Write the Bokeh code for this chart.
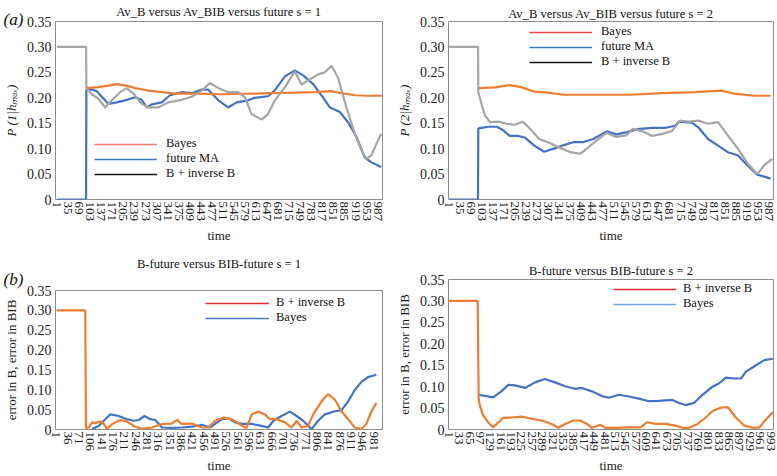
from bokeh.plotting import figure
from bokeh.models import Range1d, FixedTicker, Legend, LegendItem, Title
from bokeh.layouts import column, row
from bokeh.embed import file_html
from bokeh.resources import INLINE

# ---------------- data ----------------
# Panel (a) left, s = 1
al_bayes_t = [91, 128, 159, 184, 215, 241, 282, 323, 364, 425, 507, 589, 660, 732, 794, 845, 875, 917, 957, 1000]
al_bayes_v = [0.219, 0.221, 0.224, 0.227, 0.224, 0.219, 0.214, 0.211, 0.208, 0.208, 0.207, 0.208, 0.209, 0.210, 0.211, 0.213, 0.209, 0.205, 0.204, 0.204]
al_ma_t = [1, 90, 91, 108, 123, 159, 184, 210, 241, 261, 277, 292, 323, 348, 384, 415, 446, 466, 497, 527, 553, 589, 609, 650, 671, 702, 732, 758, 789, 814, 840, 871, 896, 922, 947, 968, 998]
al_ma_v = [0, 0, 0.217, 0.216, 0.213, 0.188, 0.191, 0.195, 0.201, 0.196, 0.181, 0.187, 0.191, 0.205, 0.211, 0.209, 0.216, 0.216, 0.195, 0.181, 0.191, 0.195, 0.200, 0.203, 0.215, 0.242, 0.254, 0.244, 0.227, 0.205, 0.181, 0.172, 0.152, 0.123, 0.083, 0.073, 0.064]
al_bib_t = [1, 90, 91, 108, 128, 149, 169, 195, 215, 236, 261, 282, 312, 343, 384, 415, 446, 471, 497, 527, 558, 579, 599, 630, 650, 671, 702, 732, 753, 773, 804, 824, 845, 865, 891, 917, 937, 952, 968, 983, 998]
al_bib_v = [0.30, 0.30, 0.219, 0.207, 0.198, 0.181, 0.195, 0.211, 0.219, 0.208, 0.188, 0.181, 0.181, 0.191, 0.196, 0.202, 0.214, 0.229, 0.219, 0.211, 0.211, 0.201, 0.168, 0.157, 0.168, 0.195, 0.221, 0.252, 0.226, 0.234, 0.246, 0.250, 0.263, 0.240, 0.181, 0.129, 0.097, 0.080, 0.087, 0.109, 0.129]

# Panel (a) right, s = 2
ar_bayes_t = [91, 94, 143, 188, 224, 264, 305, 355, 456, 558, 659, 760, 841, 881, 942, 993]
ar_bayes_v = [0.219, 0.219, 0.2205, 0.225, 0.221, 0.212, 0.210, 0.206, 0.206, 0.206, 0.209, 0.211, 0.214, 0.208, 0.204, 0.204]
ar_ma_t = [1, 90, 91, 122, 148, 168, 188, 213, 234, 264, 294, 325, 355, 386, 416, 446, 487, 517, 547, 588, 628, 669, 699, 709, 750, 770, 800, 831, 861, 892, 922, 952, 993]
ar_ma_v = [0, 0, 0.140, 0.143, 0.143, 0.136, 0.125, 0.125, 0.122, 0.106, 0.094, 0.100, 0.107, 0.113, 0.113, 0.119, 0.134, 0.128, 0.132, 0.139, 0.141, 0.141, 0.145, 0.153, 0.151, 0.142, 0.119, 0.106, 0.093, 0.087, 0.067, 0.049, 0.041]
ar_bib_t = [1, 90, 91, 102, 112, 127, 153, 178, 203, 229, 249, 279, 315, 345, 375, 406, 426, 456, 487, 517, 547, 568, 598, 628, 659, 689, 714, 740, 770, 800, 831, 861, 892, 922, 952, 973, 998]
ar_bib_v = [0.30, 0.30, 0.211, 0.185, 0.165, 0.152, 0.153, 0.149, 0.147, 0.153, 0.140, 0.119, 0.110, 0.101, 0.093, 0.090, 0.100, 0.116, 0.131, 0.123, 0.126, 0.139, 0.134, 0.125, 0.129, 0.135, 0.155, 0.153, 0.155, 0.149, 0.152, 0.126, 0.100, 0.071, 0.050, 0.067, 0.080]

# Panel (b) left, s = 1
bl_bib_t = [1, 90, 92, 101, 111, 121, 137, 147, 157, 173, 198, 219, 244, 265, 296, 327, 357, 373, 388, 419, 450, 470, 491, 517, 542, 573, 588, 604, 624, 645, 660, 681, 707, 727, 743, 758, 778, 794, 820, 840, 861, 881, 902, 922, 943, 958, 974, 989]
bl_bib_v = [0.30, 0.30, 0.004, 0.005, 0.018, 0.016, 0.020, 0.014, 0.001, 0.014, 0.024, 0.020, 0.007, 0.002, 0.005, 0.014, 0.015, 0.024, 0.014, 0.015, 0.005, 0.005, 0.022, 0.030, 0.026, 0.010, 0.004, 0.038, 0.045, 0.038, 0.026, 0.026, 0.018, 0.005, 0.022, 0.005, 0.009, 0.038, 0.071, 0.089, 0.075, 0.046, 0.026, 0.005, 0.001, 0.014, 0.046, 0.067]
bl_bayes_t = [111, 131, 152, 167, 193, 219, 239, 255, 273, 291, 306, 327, 357, 388, 419, 450, 475, 491, 511, 532, 553, 573, 604, 635, 655, 671, 696, 722, 743, 763, 789, 809, 830, 861, 881, 902, 922, 943, 963, 989]
bl_bayes_v = [0.001, 0.009, 0.026, 0.038, 0.034, 0.026, 0.022, 0.024, 0.034, 0.026, 0.024, 0.005, 0.004, 0.005, 0.007, 0.012, 0.005, 0.014, 0.026, 0.028, 0.018, 0.014, 0.014, 0.009, 0.005, 0.022, 0.034, 0.045, 0.034, 0.022, 0.001, 0.022, 0.038, 0.046, 0.048, 0.071, 0.099, 0.120, 0.132, 0.138]

# Panel (b) right, s = 2
br_bib_t = [1, 90, 93, 96, 106, 122, 137, 153, 168, 194, 225, 256, 287, 318, 339, 360, 385, 406, 427, 442, 468, 483, 514, 556, 592, 613, 638, 669, 700, 721, 742, 768, 793, 814, 840, 861, 886, 912, 938, 959, 979, 1000]
br_bib_v = [0.30, 0.30, 0.074, 0.058, 0.034, 0.017, 0.005, 0.016, 0.027, 0.028, 0.030, 0.025, 0.021, 0.013, 0.004, 0.013, 0.021, 0.021, 0.013, 0.004, 0.011, 0.004, 0.004, 0.005, 0.005, 0.017, 0.013, 0.013, 0.009, 0.004, 0.004, 0.013, 0.028, 0.043, 0.051, 0.052, 0.028, 0.009, 0.004, 0.005, 0.024, 0.040]
br_bayes_t = [93, 117, 137, 163, 184, 205, 236, 267, 297, 328, 360, 390, 411, 442, 473, 494, 525, 556, 587, 618, 649, 690, 711, 731, 757, 783, 814, 835, 855, 881, 902, 917, 948, 974, 1000]
br_bayes_v = [0.081, 0.078, 0.075, 0.089, 0.104, 0.103, 0.097, 0.110, 0.118, 0.110, 0.101, 0.095, 0.097, 0.089, 0.078, 0.074, 0.081, 0.077, 0.072, 0.066, 0.067, 0.069, 0.062, 0.057, 0.062, 0.081, 0.100, 0.108, 0.121, 0.119, 0.119, 0.135, 0.150, 0.162, 0.165]

# tick labels
x_ticks_a = [1, 35, 69, 103, 137, 171, 205, 239, 273, 307, 341, 375, 409, 443, 477, 511, 545, 579, 613, 647, 681, 715, 749, 783, 817, 851, 885, 919, 953, 987]
x_ticks_bl = [1, 36, 71, 106, 141, 176, 211, 246, 281, 316, 351, 386, 421, 456, 491, 526, 561, 596, 631, 666, 701, 736, 771, 806, 841, 876, 911, 946, 981]
x_ticks_br = [1, 33, 65, 97, 129, 161, 193, 225, 257, 289, 321, 353, 385, 417, 449, 481, 513, 545, 577, 609, 641, 673, 705, 737, 769, 801, 833, 865, 897, 929, 961, 993]
y_ticks = [0, 0.05, 0.1, 0.15, 0.2, 0.25, 0.3, 0.35]
y_tick_labels = ["0", "0.05", "0.10", "0.15", "0.20", "0.25", "0.30", "0.35"]

ORANGE = "#ED7D31"
BLUE = "#4472C4"
GRAY = "#A5A5A5"
FONT = "Liberation Serif"
NAN = float("nan")


def make_fig(width, height, borders, xr, title, standoff, ylabel, xticks, ylabel_style):
    mbl, mbr, mbt, mbb = borders
    p = figure(width=width, height=height, output_backend="svg", toolbar_location=None,
               x_range=Range1d(*xr), y_range=Range1d(0, 0.35),
               min_border_left=mbl, min_border_right=mbr, min_border_top=mbt, min_border_bottom=mbb,
               background_fill_color="white", border_fill_color="white")
    p.title.text = title
    p.title.align = "center"
    p.title.text_font = FONT
    p.title.text_font_size = "12.6px"
    p.title.text_font_style = "normal"
    p.title.text_color = "#111111"
    p.title.standoff = standoff
    p.outline_line_color = "#8c8c8c"
    p.outline_line_width = 1
    p.xgrid.visible = False
    p.ygrid.visible = False
    p.xaxis.ticker = FixedTicker(ticks=xticks)
    p.xaxis.major_label_orientation = "vertical"
    p.yaxis.ticker = FixedTicker(ticks=y_ticks)
    p.yaxis.major_label_overrides = {t: l for t, l in zip(y_ticks, y_tick_labels)}
    for ax in (p.xaxis, p.yaxis):
        ax.axis_line_color = None
        ax.major_tick_line_color = None
        ax.minor_tick_line_color = None
        ax.major_tick_out = 0
        ax.major_tick_in = 0
        ax.minor_tick_out = 0
        ax.minor_tick_in = 0
        ax.major_label_text_font = FONT
        ax.major_label_text_color = "#1a1a1a"
        ax.axis_label_text_font = FONT
        ax.axis_label_text_font_size = "13px"
        ax.axis_label_text_color = "#1a1a1a"
    p.xaxis.major_label_text_font_size = "13px"
    p.yaxis.major_label_text_font_size = "14px"
    p.xaxis.major_label_standoff = 2
    p.yaxis.major_label_standoff = 4
    p.xaxis.axis_label = "time"
    p.xaxis.axis_label_standoff = 4
    p.xaxis.axis_label_text_font_style = "normal"
    p.yaxis.axis_label = ylabel
    p.yaxis.axis_label_standoff = 5
    p.yaxis.axis_label_text_font_style = ylabel_style
    return p


def add_legend(p, entries, loc, glyph_width, standoff):
    items = []
    for name, color in entries:
        r = p.line([NAN], [NAN], line_color=color, line_width=1.6)
        items.append(LegendItem(label=name, renderers=[r]))
    lg = Legend(items=items, location=loc, padding=0, margin=0, spacing=0,
                glyph_width=glyph_width, glyph_height=14, label_height=14,
                label_standoff=standoff, label_text_font=FONT, label_text_font_size="12.5px",
                label_text_color="#111111", border_line_color=None, background_fill_alpha=0)
    p.add_layout(lg)


def panel_tag(p, text, standoff):
    p.add_layout(Title(text=text, align="left", offset=-52, standoff=standoff, text_font=FONT,
                       text_font_size="17px", text_font_style="italic", text_color="#111111"),
                 "above")


# (a) left
a1 = make_fig(390, 250, (54, 8, 21, 51), (-4, 1002), "Av_B versus Av_BIB versus future s = 1", -8,
              "P (1|hₘₐₓ)", x_ticks_a, "italic")
a1.line(al_ma_t, al_ma_v, line_color=BLUE, line_width=2.2)
a1.line(al_bayes_t, al_bayes_v, line_color=ORANGE, line_width=2.2)
a1.line(al_bib_t, al_bib_v, line_color=GRAY, line_width=2.2)
add_legend(a1, [("Bayes", "#F2786C"), ("future MA", "#3F7CC6"), ("B + inverse B", "#111111")],
           (39, 18), 63, 9)
panel_tag(a1, "(a)", -14)

# (a) right
a2 = make_fig(387, 250, (58, 2, 21, 51), (-1, 1002), "Av_B versus Av_BIB versus future s = 2", 2,
              "P (2|hₘₐₓ)", x_ticks_a, "italic")
a2.line(ar_ma_t, ar_ma_v, line_color=BLUE, line_width=2.2)
a2.line(ar_bayes_t, ar_bayes_v, line_color=ORANGE, line_width=2.2)
a2.line(ar_bib_t, ar_bib_v, line_color=GRAY, line_width=2.2)
add_legend(a2, [("Bayes", "#E8473E"), ("future MA", "#3F7CC6"), ("B + inverse B", "#111111")],
           (81, 130), 63, 9)

# (b) left
b1 = make_fig(390, 226, (54, 8, 40, 44), (-2, 1008), "B-future versus BIB-future s = 1", -10,
              "error in B, error in BIB", x_ticks_bl, "normal")
b1.line(bl_bayes_t, bl_bayes_v, line_color=BLUE, line_width=2.2)
b1.line(bl_bib_t, bl_bib_v, line_color=ORANGE, line_width=2.2)
add_legend(b1, [("B + inverse B", "#E02B2B"), ("Bayes", "#4A7CC8")], (150, 104), 64, 7)
panel_tag(b1, "(b)", 4)

# (b) right
b2 = make_fig(387, 226, (58, 4, 29, 44), (0, 1002), "B-future versus BIB-future s = 2", 3,
              "error in B, error in BIB", x_ticks_br, "normal")
b2.line(br_bayes_t, br_bayes_v, line_color=BLUE, line_width=2.2)
b2.line(br_bib_t, br_bib_v, line_color=ORANGE, line_width=2.2)
add_legend(b2, [("B + inverse B", "#E02B2B"), ("Bayes", "#73A6DA")], (165, 118), 63, 7)

layout = row(column(a1, b1), column(a2, b2))
open("out.html", "w").write(file_html(layout, INLINE))
